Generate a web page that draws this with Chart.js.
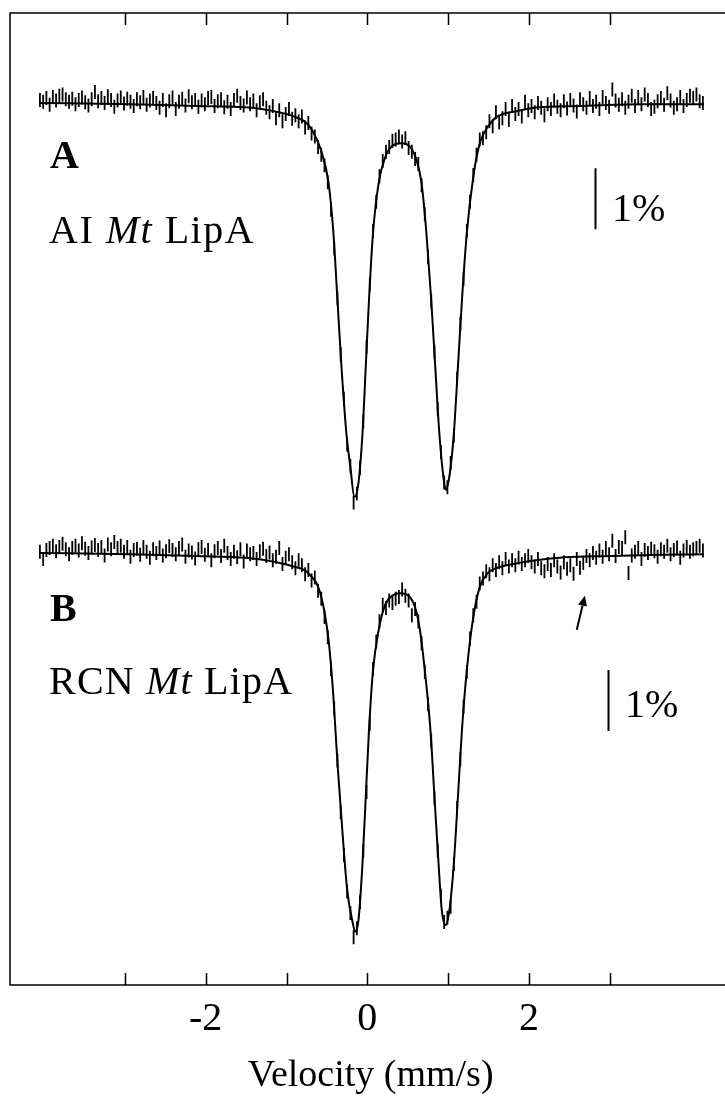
<!DOCTYPE html>
<html>
<head>
<meta charset="utf-8">
<script src="https://cdn.jsdelivr.net/npm/chart.js@4/dist/chart.umd.min.js"></script>
<style>
  html, body { margin: 0; padding: 0; background: #fff; overflow: hidden; width: 725px; height: 1099px; }
  #wrap { position: relative; width: 740px; height: 1099px; }
  canvas { position: absolute; left: 0; top: 0; }
  .lbl { position: absolute; font-family: "Liberation Serif", serif; font-size: 40px; line-height: 1; color: #000; white-space: nowrap; }
  .bold { font-weight: bold; }
</style>
</head>
<body>
<div id="wrap">
  <canvas id="c" width="740" height="1099"></canvas>
  <div class="lbl bold" style="left:50px; top:135px;">A</div>
  <div class="lbl" style="left:49px; top:210px; letter-spacing:1.5px;">AI <i>Mt</i> LipA</div>
  <div class="lbl" style="left:612px; top:188px;">1%</div>
  <div class="lbl bold" style="left:50px; top:588px;">B</div>
  <div class="lbl" style="left:49px; top:661px; letter-spacing:1.2px;">RCN <i>Mt</i> LipA</div>
  <div class="lbl" style="left:625px; top:684px;">1%</div>
</div>
<script>
// ---- data (relative transmission, %) ----
const velStart = -4.05;   // mm/s, first channel
const velStep = 0.04;     // mm/s per channel

const dataA = [
  0.05, 0.02, 0.08, -0.03, 0.10, 0.04, 0.12, 0.14, 0.06, 0.02,
  0.07, -0.02, 0.05, 0.09, 0.01, -0.04, 0.06, 0.18, 0.03, 0.08,
  0.00, 0.11, 0.05, -0.06, 0.04, 0.09, -0.01, 0.07, 0.02, -0.05,
  0.06, 0.01, 0.10, -0.03, 0.04, 0.08, 0.00, -0.08, 0.05, -0.12,
  0.03, 0.09, -0.10, 0.02, 0.07, -0.04, 0.11, 0.01, 0.05, -0.06,
  0.04, -0.02, 0.08, 0.10, -0.05, 0.03, 0.06, -0.07, 0.02, -0.10,
  0.05, 0.12, 0.00, -0.04, 0.09, -0.02, 0.04, -0.12, 0.01, 0.06,
  -0.08, -0.15, -0.05, -0.25, -0.12, -0.30, -0.18, -0.10, -0.26, -0.20,
  -0.30, -0.22, -0.40, -0.33, -0.50, -0.55, -0.72, -0.85, -1.02, -1.30,
  -1.75, -2.38, -3.20, -4.12, -4.85, -5.60, -5.95, -6.55, -6.40, -5.98,
  -5.22, -4.00, -2.98, -2.10, -1.62, -1.20, -0.95, -0.80, -0.72, -0.62,
  -0.60, -0.55, -0.63, -0.58, -0.74, -0.80, -0.92, -1.00, -1.35, -1.82,
  -2.52, -3.25, -4.08, -5.02, -5.72, -6.22, -6.30, -5.90, -5.45, -4.52,
  -3.62, -2.88, -2.10, -1.62, -1.18, -0.85, -0.60, -0.58, -0.48, -0.30,
  -0.38, -0.15, -0.32, -0.25, -0.10, -0.28, -0.05, -0.18, -0.10, -0.22,
  0.02, -0.12, -0.05, -0.15, 0.00, -0.08, -0.20, -0.02, -0.10, 0.04,
  -0.06, -0.12, 0.03, -0.09, 0.05, -0.04, -0.14, 0.06, -0.02, -0.08,
  0.08, -0.05, 0.02, -0.10, 0.10, 0.00, -0.06, 0.22, 0.04, -0.03,
  0.06, -0.08, 0.02, 0.12, -0.05, 0.10, -0.02, 0.14, 0.05, -0.10,
  -0.06, 0.03, 0.08, -0.03, 0.16, 0.04, -0.08, -0.02, 0.10, -0.05,
  0.05, 0.12, 0.08, 0.14, 0.03, 0.00
];

const dataB = [
  0.02, -0.10, 0.05, 0.08, 0.12, 0.03, 0.10, 0.15, 0.06, -0.02,
  0.08, 0.12, 0.04, 0.16, 0.07, 0.00, 0.09, 0.13, 0.05, 0.10,
  -0.04, 0.14, 0.06, 0.18, 0.08, 0.12, 0.02, 0.10, -0.06, 0.05,
  0.07, -0.03, 0.10, 0.02, -0.08, 0.06, 0.00, 0.09, -0.04, 0.03,
  0.11, 0.05, -0.02, 0.08, 0.14, -0.06, 0.04, 0.01, -0.09, 0.06,
  0.10, -0.03, 0.05, -0.12, 0.03, 0.08, -0.05, 0.12, 0.00, -0.10,
  0.02, -0.07, 0.06, -0.14, 0.04, -0.02, 0.00, -0.10, 0.03, 0.07,
  -0.05, 0.01, -0.12, -0.06, 0.08, -0.18, -0.08, -0.02, -0.15, -0.25,
  -0.12, -0.20, -0.35, -0.28, -0.45, -0.40, -0.62, -0.75, -1.05, -1.38,
  -1.90, -2.55, -3.40, -4.25, -4.95, -5.55, -5.90, -6.30, -6.15, -5.72,
  -4.88, -3.92, -2.80, -1.90, -1.45, -1.12, -0.85, -0.90, -0.78, -0.82,
  -0.75, -0.72, -0.60, -0.70, -0.78, -1.02, -0.92, -1.12, -1.48, -1.95,
  -2.48, -3.08, -4.02, -4.88, -5.62, -6.05, -5.98, -5.80, -5.10, -4.18,
  -3.38, -2.52, -1.95, -1.40, -1.02, -0.80, -0.50, -0.42, -0.30, -0.35,
  -0.20, -0.28, -0.15, -0.25, -0.10, -0.22, -0.12, -0.20, -0.08, -0.18,
  -0.12, -0.05, -0.15, -0.22, -0.10, -0.25, -0.30, -0.18, -0.28, -0.12,
  -0.22, -0.32, -0.15, -0.26, -0.20, -0.34, -0.10, -0.24, -0.16, -0.05,
  -0.12, 0.00, -0.08, 0.04, -0.06, 0.08, -0.02, 0.20, -0.05, 0.10,
  0.08, 0.26, -0.33, -0.04, 0.02, 0.08, -0.10, 0.05, 0.00, 0.07,
  0.03, -0.06, 0.06, 0.02, 0.12, -0.02, 0.05, 0.09, -0.08, 0.04,
  0.10, 0.02, 0.06, 0.08, 0.12, 0.04
];

const fitVelA = [-4.05,-2.94,-2.12,-1.50,-1.10,-0.89,-0.73,-0.57,-0.48,-0.42,-0.37,-0.32,-0.26,-0.21,-0.16,-0.11,-0.06,-0.02,0.02,0.07,0.14,0.22,0.32,0.42,0.53,0.60,0.67,0.73,0.79,0.84,0.89,0.94,0.97,1.02,1.07,1.12,1.17,1.23,1.31,1.39,1.49,1.61,1.86,2.11,2.60,3.42,4.16];
const fitA = [0,-0.02,-0.05,-0.07,-0.15,-0.23,-0.36,-0.79,-1.31,-2.13,-3.23,-4.33,-5.41,-5.97,-6.46,-6.23,-5.41,-4.33,-3.23,-2.13,-1.31,-0.89,-0.69,-0.66,-0.72,-0.90,-1.31,-2.13,-3.23,-4.33,-5.41,-6.13,-6.34,-6.07,-5.41,-4.33,-3.23,-2.13,-1.21,-0.66,-0.39,-0.22,-0.13,-0.07,-0.05,-0.02,-0.02];

const fitVelB = [-4.05,-2.94,-2.12,-1.50,-1.13,-0.89,-0.73,-0.57,-0.48,-0.42,-0.37,-0.31,-0.25,-0.18,-0.15,-0.11,-0.06,-0.02,0.02,0.07,0.14,0.22,0.32,0.41,0.51,0.59,0.65,0.71,0.78,0.83,0.88,0.92,0.97,1.02,1.07,1.12,1.17,1.23,1.31,1.39,1.49,1.59,1.77,2.02,2.44,3.00,3.62,4.16];
const fitB = [0,-0.02,-0.05,-0.08,-0.15,-0.23,-0.33,-0.72,-1.43,-2.36,-3.44,-4.54,-5.52,-6.07,-6.21,-6.02,-5.08,-4.00,-2.90,-1.92,-1.26,-0.85,-0.69,-0.66,-0.70,-0.89,-1.26,-1.92,-2.90,-4.00,-5.08,-5.85,-6.10,-5.80,-5.08,-4.00,-2.90,-1.92,-1.05,-0.56,-0.33,-0.25,-0.19,-0.13,-0.07,-0.05,-0.03,-0.02];

const tickLabelValues = [-2, 0, 2];
const frameTickValues = [-3, -2, -1, 0, 1, 2, 3];

// ---- annotation placement (data coordinates) ----
const annot = {
  barA: { x: 2.81, y0: -1.07, y1: -2.07 },
  barB: { x: 2.98, y0: -1.92, y1: -2.92 },
  arrowB: { x0: 2.59, y0: -1.26, x1: 2.69, y1: -0.70 }
};

const pts = (vals) => vals.map((y, i) => ({ x: velStart + i * velStep, y }));
const pairs = (xs, ys) => xs.map((x, i) => ({ x, y: ys[i] }));

const framePlugin = {
  id: 'frame',
  afterDraw(chart) {
    const { ctx, chartArea: a, scales } = chart;
    const x = scales.x, yA = scales.yA, yB = scales.yB;
    ctx.save();
    ctx.strokeStyle = '#000';
    ctx.lineWidth = 1.5;
    ctx.strokeRect(a.left, a.top, a.right - a.left, a.bottom - a.top);
    ctx.beginPath();
    for (const v of frameTickValues) {
      const px = Math.round(x.getPixelForValue(v)) + 0.5;
      ctx.moveTo(px, a.top); ctx.lineTo(px, a.top + 12);
      ctx.moveTo(px, a.bottom); ctx.lineTo(px, a.bottom - 12);
    }
    ctx.stroke();
    // 1% scale bars
    ctx.lineWidth = 2;
    ctx.beginPath();
    let px = Math.round(x.getPixelForValue(annot.barA.x)) + 0.5;
    ctx.moveTo(px, yA.getPixelForValue(annot.barA.y0));
    ctx.lineTo(px, yA.getPixelForValue(annot.barA.y1));
    px = Math.round(x.getPixelForValue(annot.barB.x)) + 0.5;
    ctx.moveTo(px, yB.getPixelForValue(annot.barB.y0));
    ctx.lineTo(px, yB.getPixelForValue(annot.barB.y1));
    ctx.stroke();
    // arrow
    const ax0 = x.getPixelForValue(annot.arrowB.x0), ay0 = yB.getPixelForValue(annot.arrowB.y0);
    const ax1 = x.getPixelForValue(annot.arrowB.x1), ay1 = yB.getPixelForValue(annot.arrowB.y1);
    const ang = Math.atan2(ay1 - ay0, ax1 - ax0);
    const hl = 10, hw = 4.5;
    const bx = ax1 - hl * Math.cos(ang), by = ay1 - hl * Math.sin(ang);
    ctx.lineWidth = 2;
    ctx.beginPath();
    ctx.moveTo(ax0, ay0); ctx.lineTo(bx, by); ctx.stroke();
    ctx.beginPath();
    ctx.moveTo(ax1, ay1);
    ctx.lineTo(bx + hw * Math.sin(ang), by - hw * Math.cos(ang));
    ctx.lineTo(bx - hw * Math.sin(ang), by + hw * Math.cos(ang));
    ctx.closePath();
    ctx.fillStyle = '#000';
    ctx.fill();
    ctx.restore();
  }
};

const pointStyleOpts = {
  showLine: false, pointStyle: 'line', rotation: 90, pointRadius: 7,
  borderColor: '#000', backgroundColor: '#000', borderWidth: 1.8, pointHoverRadius: 7
};
const fitOpts = {
  showLine: true, pointRadius: 0, borderColor: '#000', borderWidth: 2,
  cubicInterpolationMode: 'monotone', fill: false
};

new Chart(document.getElementById('c'), {
  type: 'scatter',
  data: {
    datasets: [
      { label: 'fit A', data: pairs(fitVelA, fitA), yAxisID: 'yA', ...fitOpts },
      { label: 'fit B', data: pairs(fitVelB, fitB), yAxisID: 'yB', ...fitOpts },
      { label: 'AI Mt LipA', data: pts(dataA), yAxisID: 'yA', ...pointStyleOpts },
      { label: 'RCN Mt LipA', data: pts(dataB), yAxisID: 'yB', ...pointStyleOpts }
    ]
  },
  options: {
    responsive: false,
    animation: false,
    events: [],
    layout: { padding: { left: 10, right: 6, top: 13, bottom: 0 } },
    plugins: { legend: { display: false }, tooltip: { enabled: false } },
    scales: {
      x: {
        type: 'linear', min: -4.42, max: 4.5,
        grid: { display: false, drawTicks: false },
        border: { display: false },
        afterBuildTicks: (s) => { s.ticks = tickLabelValues.map(v => ({ value: v })); },
        afterFit: (s) => { s.height = 114; },
        ticks: {
          color: '#000', padding: 10, maxRotation: 0,
          font: { family: 'Liberation Serif', size: 40 },
          callback: (v) => String(v)
        },
        title: {
          display: true, text: 'Velocity (mm/s)', color: '#000',
          font: { family: 'Liberation Serif', size: 38 },
          padding: { top: 0, bottom: 0 }
        }
      },
      yA: { display: false, min: -14.459, max: 1.475 },
      yB: { display: false, min: -7.082, max: 8.852 }
    }
  },
  plugins: [framePlugin]
});
</script>
</body>
</html>
